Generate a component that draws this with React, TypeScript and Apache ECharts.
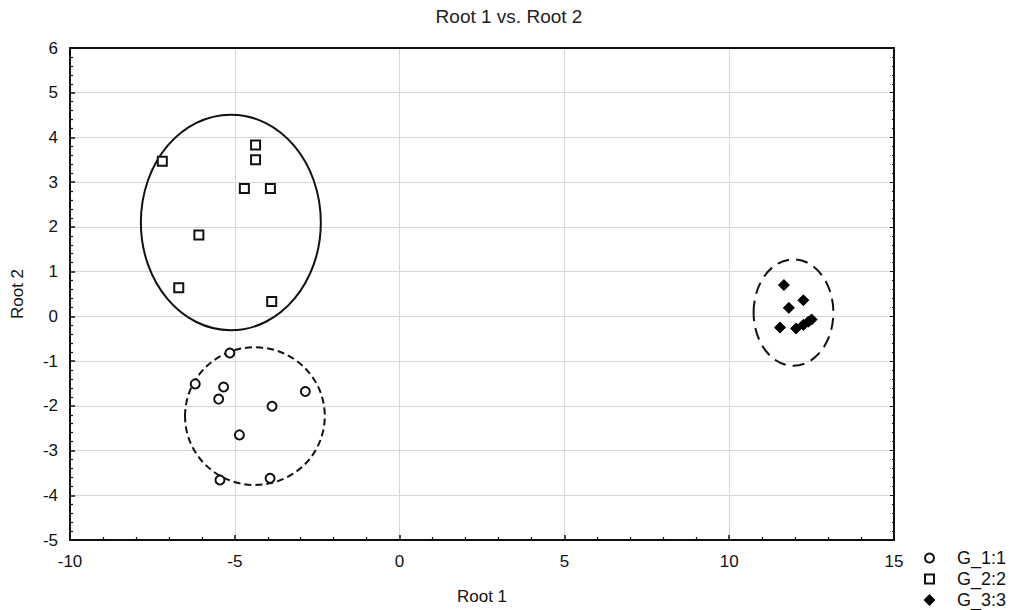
import React, { useEffect, useRef } from "react";
import * as echarts from "echarts";

const g1Points: number[][] = [
  [-5.15, -0.82], [-6.2, -1.51], [-5.34, -1.58], [-5.49, -1.85], [-2.86, -1.68],
  [-3.87, -2.01], [-4.86, -2.65], [-5.45, -3.66], [-3.93, -3.62],
];
const g2Points: number[][] = [
  [-7.2, 3.47], [-4.37, 3.83], [-4.37, 3.5], [-4.71, 2.86], [-3.92, 2.86],
  [-6.09, 1.82], [-6.7, 0.64], [-3.88, 0.33],
];
const g3Points: number[][] = [
  [11.66, 0.7], [11.81, 0.19], [12.25, 0.36], [11.54, -0.25], [12.03, -0.27],
  [12.25, -0.19], [12.4, -0.12], [12.5, -0.07],
];
// ellipse: [centerX, centerY, radiusX, radiusY]
const ellipseG2 = [-5.12, 2.1, 2.73, 2.41];
const ellipseG1 = [-4.39, -2.23, 2.12, 1.54];
const ellipseG3 = [11.95, 0.085, 1.21, 1.19];
const seriesNames = ["G_1:1", "G_2:2", "G_3:3"];
const xTicks = { min: -10, max: 15, interval: 5 };
const yTicks = { min: -5, max: 6, interval: 1 };

const FONT = "Liberation Sans, Arial, sans-serif";

function ellipseSeries(params: number[], dash: number[] | null) {
  return {
    type: "custom",
    silent: true,
    xAxisIndex: 0,
    yAxisIndex: 0,
    data: [params],
    z: 1,
    renderItem: (_p: any, api: any) => {
      const c = api.coord([api.value(0), api.value(1)]);
      const s = api.size([api.value(2), api.value(3)]);
      return {
        type: "ellipse",
        shape: { cx: c[0], cy: c[1], rx: s[0], ry: s[1] },
        style: {
          fill: "none",
          stroke: "#111",
          lineWidth: 2,
          lineDash: dash || undefined,
        },
      };
    },
  };
}

export default function App() {
  const ref = useRef<HTMLDivElement>(null);
  useEffect(() => {
    if (!ref.current) return;
    const chart = echarts.init(ref.current, null, { renderer: "svg" });
    const axisCommon = {
      axisLine: { show: true, onZero: false, lineStyle: { color: "#111", width: 2 } },
      axisTick: { show: true, inside: true, length: 5, lineStyle: { color: "#111", width: 1.5 } },
      minorTick: { show: true, splitNumber: 5, length: 3, lineStyle: { color: "#111", width: 1.2 } },
      axisLabel: { color: "#111", fontSize: 17, fontFamily: FONT },
      splitLine: { show: true, lineStyle: { color: "#d6d6d6", width: 1 } },
    };
    chart.setOption({
      animation: false,
      backgroundColor: "#ffffff",
      title: {
        text: "Root 1 vs. Root 2",
        left: "center",
        top: 7,
        padding: 0,
        textStyle: { fontSize: 19, fontWeight: "normal", color: "#222", fontFamily: FONT },
      },
      grid: { left: 70, top: 48, width: 824, height: 495, containLabel: false },
      legend: {
        orient: "vertical",
        left: 924,
        top: 549,
        padding: 0,
        itemWidth: 9,
        itemHeight: 9,
        itemGap: 3,
        data: seriesNames,
        textStyle: { fontSize: 18, color: "#111", fontFamily: FONT, padding: [0, 0, 0, 18] },
      },
      xAxis: [
        {
          type: "value",
          ...xTicks,
          name: "Root 1",
          nameLocation: "middle",
          nameGap: 48,
          nameTextStyle: { fontSize: 17, color: "#111", fontFamily: FONT },
          ...axisCommon,
          axisLabel: { ...axisCommon.axisLabel, margin: 13 },
        },
        {
          type: "value",
          ...xTicks,
          position: "top",
          axisLine: { show: true, onZero: false, lineStyle: { color: "#111", width: 2 } },
          axisTick: { show: false },
          axisLabel: { show: false },
          splitLine: { show: false },
        },
      ],
      yAxis: [
        {
          type: "value",
          ...yTicks,
          name: "Root 2",
          nameLocation: "middle",
          nameGap: 44,
          nameTextStyle: { fontSize: 17, color: "#111", fontFamily: FONT },
          ...axisCommon,
          axisLabel: { ...axisCommon.axisLabel, margin: 12 },
        },
        {
          type: "value",
          ...yTicks,
          position: "right",
          axisLine: { show: true, onZero: false, lineStyle: { color: "#111", width: 2 } },
          axisTick: { show: true, inside: true, length: 4, lineStyle: { color: "#111" } },
          minorTick: { show: true, splitNumber: 5, length: 2, lineStyle: { color: "#111" } },
          axisLabel: { show: false },
          splitLine: { show: false },
        },
      ],
      series: [
        ellipseSeries(ellipseG2, null),
        ellipseSeries(ellipseG1, [7, 4]),
        ellipseSeries(ellipseG3, [12, 7]),
        {
          name: seriesNames[0],
          type: "scatter",
          data: g1Points,
          symbol: "circle",
          symbolSize: 9,
          itemStyle: { color: "#ffffff", borderColor: "#111", borderWidth: 2, opacity: 1 },
          z: 3,
        },
        {
          name: seriesNames[1],
          type: "scatter",
          data: g2Points,
          symbol: "rect",
          symbolSize: 9,
          itemStyle: { color: "#ffffff", borderColor: "#111", borderWidth: 2, opacity: 1 },
          z: 3,
        },
        {
          name: seriesNames[2],
          type: "scatter",
          data: g3Points,
          symbol: "diamond",
          symbolSize: 11,
          itemStyle: { color: "#000", borderColor: "#000", borderWidth: 1, opacity: 1 },
          z: 3,
        },
      ],
    });
    return () => chart.dispose();
  }, []);
  return (
    <div
      ref={ref}
      style={{ position: "fixed", left: 0, top: 0, width: 1018, height: 610, background: "#fff" }}
    />
  );
}
